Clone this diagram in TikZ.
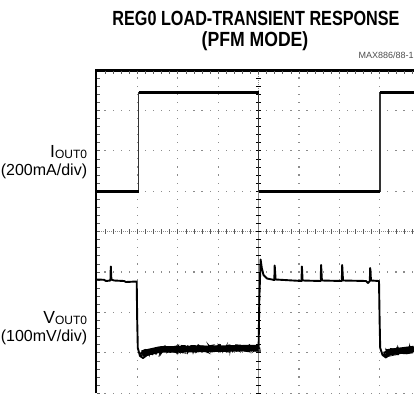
\documentclass[tikz,border=0pt]{standalone}
\usepackage{fontspec}
\setmainfont{Liberation Sans}
\newfontfamily\narrowfont[FakeStretch=0.79]{Liberation Sans}
\newfontfamily\narrowfontb[FakeStretch=0.86]{Liberation Sans}
\usetikzlibrary{decorations.pathmorphing}
\begin{document}
\begin{tikzpicture}[x=1pt,y=-1pt,
  titletext/.style={inner sep=0pt,font=\narrowfont\bfseries\fontsize{20.5}{22}\selectfont},
  titletextb/.style={inner sep=0pt,font=\narrowfontb\bfseries\fontsize{20.5}{22}\selectfont},
  labeltext/.style={inner sep=0pt,font=\fontsize{16}{18}\selectfont},
  codetext/.style={inner sep=0pt,text=black!70,font=\fontsize{9}{10}\selectfont},
  griddot/.style={fill=black!45},
  frame/.style={line width=2.5pt,black},
  tickmark/.style={line width=0.7pt,black!65},
  axis/.style={line width=1.1pt,black!45},
  itrace/.style={line width=2.3pt,black},
  edge/.style={line width=1.2pt,black!80},
  vtrace/.style={line width=1.9pt,black,line join=round},
  noise/.style={line width=1pt,black,decorate,decoration={random steps,segment length=0.6pt,amplitude=4pt}}]
\pgfmathsetseed{11}
\useasboundingbox (0,0) rectangle (414,393);
% titles
\node[titletext,anchor=base] (t1) at (256,25.5) {REG0 LOAD-TRANSIENT RESPONSE};
\node[titletextb,anchor=base] (t2) at (255,46.5) {(PFM MODE)};
\node[codetext,anchor=base east] (code) at (413.8,59) {MAX886/88-1};
% labels
\node[labeltext,anchor=base east] (il) at (87.3,157) {{\fontsize{17.5}{18}\selectfont I}\raisebox{-1.3pt}{\fontsize{12}{12}\selectfont OUT0}};
\node[labeltext,anchor=base east] (is) at (87.3,175) {(200mA/div)};
\node[labeltext,anchor=base east] (vl) at (87.3,323.5) {{\fontsize{17.5}{18}\selectfont V}\raisebox{-1.3pt}{\fontsize{12}{12}\selectfont OUT0}};
\node[labeltext,anchor=base east] (vs) at (87.3,341.5) {(100mV/div)};
% grid dots
\foreach \k in {1,2,3,5,6,7}{
  \foreach \j in {1,...,40}{
    \fill[griddot] ({97+40.4*\k-0.6},{70+8.08*\j-0.6}) rectangle ++(1.2,1.2);
  }
}
\foreach \k in {1,2,3,5,6,7,8}{
  \foreach \j in {1,...,39}{
    \fill[griddot] ({97+8.08*\j-0.6},{70+40.4*\k-0.6}) rectangle ++(1.2,1.2);
  }
}
% center axes
\draw[black!45,line width=0.8pt,dash pattern=on 0.8pt off 1.2pt] (97,231.6) -- (414,231.6);
\foreach \j in {1,...,39}{
  \draw[tickmark] ({97+8.08*\j},229.4) -- ++(0,4.4);
}
\draw[black!45,line width=0.8pt,dash pattern=on 0.8pt off 1.2pt] (258.6,72) -- (258.6,92);
\draw[axis] (258.6,92) -- (258.6,393);
\foreach \j in {1,...,40}{
  \draw[tickmark,black] (256.2,{70+8.08*\j}) -- ++(4.8,0);
}
% frame with ticks
\draw[frame] (96.2,393) -- (96.2,70.5) -- (414,70.5);
\foreach \j in {1,...,39}{
  \draw[tickmark] ({97+8.08*\j},71.5) -- ++(0,2.3);
}
\foreach \j in {1,...,40}{
  \draw[tickmark] (97.3,{70+8.08*\j}) -- ++(2.3,0);
}
% I trace
\draw[edge] (138.5,191.5) -- (138.5,92.5);
\draw[edge] (258.8,92.5) -- (258.8,191.5);
\draw[edge] (380,191.5) -- (380,92.5);
\draw[itrace] (97,191.5) -- (138.5,191.5);
\draw[itrace] (138.5,92.5) -- (258.8,92.5);
\draw[itrace] (258.8,191.5) -- (380,191.5);
\draw[itrace] (380,92.5) -- (414,92.5);
% V trace
\draw[vtrace] (97,279.5) -- (104,279.8) -- (106,281) -- (110.4,280.5) -- (110.8,266.5) -- (111.4,279.5)
  -- (114,280.5) -- (124,281) -- (126,282) -- (136.7,281.5) -- (137.2,320) -- (137.8,348)
  -- (140,356) -- (143,358) -- (147,355) -- (160,350.5) -- (200,348) -- (258.6,348)
  -- (259.3,300) -- (260.6,259.5) -- (261.8,268) -- (263.5,275) -- (267,278.5) -- (274.3,280)
  -- (274.7,265.5) -- (275.6,279.5) -- (301.5,281) -- (301.9,266.5) -- (302.6,280.5)
  -- (320.7,281) -- (321.1,265) -- (321.9,280.5) -- (341.8,281) -- (342.2,265) -- (343,280.5)
  -- (366,281) -- (368,283) -- (369.8,281) -- (370.2,268) -- (371,280.5) -- (379,281)
  -- (379.6,320) -- (380.2,348) -- (382.5,355) -- (386,357.5) -- (392,352) -- (414,349);
\draw[black,line width=6.5pt] (142,353.5) -- (160,349.5) -- (258.6,348);
\draw[black,line width=6.5pt] (386,352.5) -- (414,349);
\draw[noise] (139,354) -- (150,352) -- (170,349) -- (258,348);
\draw[noise] (382,354) -- (392,351.5) -- (414,349);
\end{tikzpicture}
\end{document}
